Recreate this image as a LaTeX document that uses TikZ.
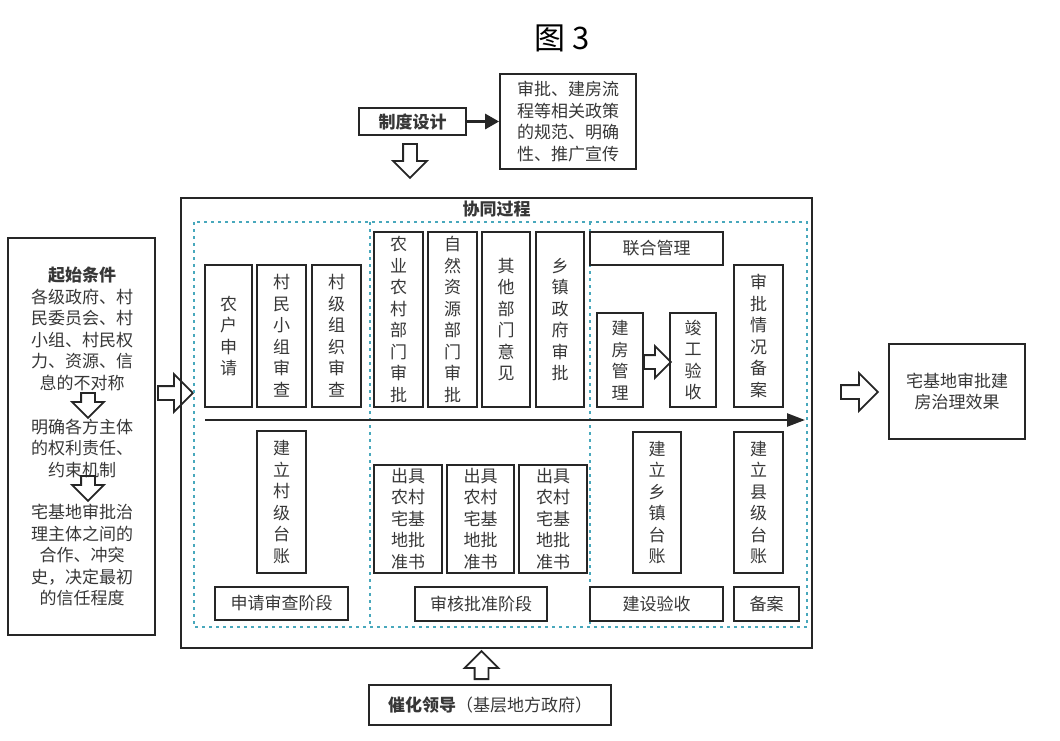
\documentclass[tikz,border=0pt]{standalone}
\usepackage{fontspec}
\setmainfont{Noto Sans CJK SC}
\usetikzlibrary{arrows.meta,shapes.arrows}
\definecolor{dotteal}{RGB}{72,168,188}
\definecolor{ink}{RGB}{55,55,55}
\newcommand{\bodyfont}{\fontsize{17}{21.5}\selectfont}
\tikzset{every node/.style={text=ink, font=\bodyfont, inner sep=0pt, align=center},
  box/.style={draw=black!85, line width=1.8pt},
  harrow/.style={single arrow, draw=black!85, line width=1.8pt, inner xsep=0pt, inner ysep=6pt, single arrow head extend=10pt, minimum width=0pt, anchor=tail},
  dotline/.style={dotteal, line width=2.4pt, dash pattern=on 2.6pt off 4.4pt},
  flow/.style={black!85, line width=2.5pt, -{Triangle[length=18pt,width=13pt]}}}

\begin{document}
\begin{tikzpicture}[x=1pt,y=-1pt]
   \useasboundingbox (0,0) rectangle (1060,740);
   \node[font=\fontsize{31}{36}\selectfont, text=black] (title) at (562,38) {图 3};
   \node[box, minimum width=107pt, minimum height=27pt] (design) at (412.5,121.5) {\textbf{制度设计}};
   \node[box, minimum width=136pt, minimum height=95pt] (policy) at (568,121.5) {审批、建房流\\程等相关政策\\的规范、明确\\性、推广宣传};
   \draw[black!85, line width=3pt, -{Triangle[length=14pt,width=15pt]}] (design) -- (policy);
   \node[harrow, minimum height=34pt, rotate=-90] (adesign) at (410,143) {};
   \begin{scope}
    \node[box, minimum width=147pt, minimum height=397pt] (start) at (81.5,436.5) {};
    \node (start1) at (82,329) {\textbf{起始条件}\\各级政府、村\\民委员会、村\\小组、村民权\\力、资源、信\\息的不对称};
    \node (start2) at (82,448) {明确各方主体\\的权利责任、\\约束机制};
    \node (start3) at (82,555) {宅基地审批治\\理主体之间的\\合作、冲突\\史，决定最初\\的信任程度};
    \node[harrow, minimum height=25pt, single arrow head extend=9pt, rotate=-90] (astart1) at (88,392) {};
    \node[harrow, minimum height=25pt, single arrow head extend=9pt, rotate=-90] (astart2) at (88,475) {};
   \end{scope}
   \node[harrow, minimum height=35pt, single arrow head extend=12pt] (astart) at (157,393) {};
   \node[box, line width=2pt, minimum width=631pt, minimum height=450pt] (collab) at (496.5,423) {};
   \node (collabT) at (496.5,209) {\textbf{协同过程}};
   \draw[dotline] (194,222) rectangle (807,627);
   \draw[dotline] (370,222) -- (370,627);
   \draw[dotline] (590,222) -- (590,627);
   \begin{scope}
    \node[box, minimum width=47pt, minimum height=142pt] (apply) at (228.5,336) {农\\户\\申\\请};
    \node[box, minimum width=49pt, minimum height=142pt] (group) at (281.5,336) {村\\民\\小\\组\\审\\查};
    \node[box, minimum width=49pt, minimum height=142pt] (village) at (336.5,336) {村\\级\\组\\织\\审\\查};
    \node[box, minimum width=49pt, minimum height=142pt] (ledgerV) at (281.5,502) {建\\立\\村\\级\\台\\账};
    \node[box, minimum width=133pt, minimum height=33pt] (stage1) at (281.5,603.5) {申请审查阶段};
   \end{scope}
   \begin{scope}
    \node[box, minimum width=49pt, minimum height=175pt] (agri) at (398.5,319.5) {农\\业\\农\\村\\部\\门\\审\\批};
    \node[box, minimum width=49pt, minimum height=175pt] (nature) at (452.5,319.5) {自\\然\\资\\源\\部\\门\\审\\批};
    \node[box, minimum width=48pt, minimum height=175pt] (other) at (506,319.5) {其\\他\\部\\门\\意\\见};
    \node[box, minimum width=48pt, minimum height=175pt] (town) at (560,319.5) {乡\\镇\\政\\府\\审\\批};
    \node[box, minimum width=68pt, minimum height=108pt] (cert1) at (408,519) {出具\\农村\\宅基\\地批\\准书};
    \node[box, minimum width=67pt, minimum height=108pt] (cert2) at (480.5,519) {出具\\农村\\宅基\\地批\\准书};
    \node[box, minimum width=68pt, minimum height=108pt] (cert3) at (553,519) {出具\\农村\\宅基\\地批\\准书};
    \node[box, minimum width=132pt, minimum height=34pt] (stage2) at (481,604) {审核批准阶段};
   \end{scope}
   \begin{scope}
    \node[box, minimum width=133pt, minimum height=33pt] (joint) at (656.5,248.5) {联合管理};
    \node[box, minimum width=46pt, minimum height=94pt] (build) at (620,360) {建\\房\\管\\理};
    \node[box, minimum width=46pt, minimum height=94pt] (accept) at (693,360) {竣\\工\\验\\收};
    \node[harrow, minimum height=27pt, single arrow head extend=9pt] (abuild) at (643,362) {};
    \node[box, minimum width=49pt, minimum height=142pt] (record) at (758.5,336) {审\\批\\情\\况\\备\\案};
    \node[box, minimum width=48pt, minimum height=141pt] (ledgerT) at (657,502.5) {建\\立\\乡\\镇\\台\\账};
    \node[box, minimum width=49pt, minimum height=141pt] (ledgerC) at (758.5,502.5) {建\\立\\县\\级\\台\\账};
    \node[box, minimum width=133pt, minimum height=34pt] (stage3) at (656.5,604) {建设验收};
    \node[box, minimum width=65pt, minimum height=34pt] (stage4) at (766.5,604) {备案};
   \end{scope}
   \coordinate (tl0) at (205,420);
   \coordinate (tl1) at (805,420);
   \draw[flow] (tl0) -- (tl1);
   \node[harrow, minimum height=37pt, single arrow head extend=12pt] (aresult) at (840,392) {};
   \node[box, minimum width=136pt, minimum height=95pt] (result) at (957,391.5) {宅基地审批建\\房治理效果};
   \node[harrow, minimum height=28pt, rotate=90] (alead) at (481.5,680) {};
   \node[box, minimum width=242pt, minimum height=40pt] (lead) at (490,705) {\textbf{催化领导}（基层地方政府）};
\end{tikzpicture}
\end{document}
